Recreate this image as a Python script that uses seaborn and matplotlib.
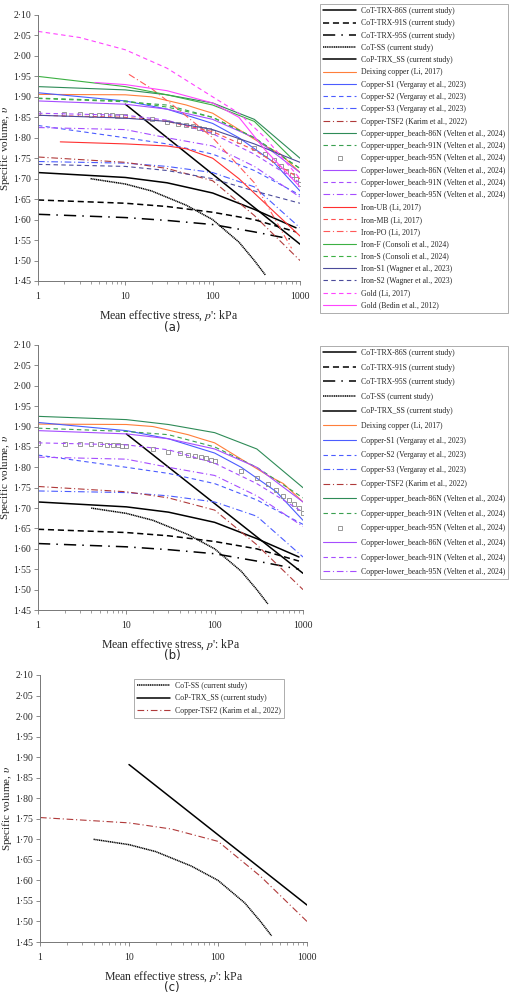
import numpy as np
import matplotlib
matplotlib.use("Agg")
import matplotlib.pyplot as plt
import seaborn as sns
from matplotlib.ticker import FuncFormatter, FixedLocator, LogLocator, NullFormatter

sns.set_theme(style="white")
plt.rcParams['font.family'] = ['Liberation Serif', 'DejaVu Serif']
plt.rcParams['mathtext.fontset'] = 'stix'

# ─── data ──────────────────────────────────────────────────────────────────
tx86_p = [1, 10, 30, 100, 300, 900]
tx86_v = [1.715, 1.703, 1.69, 1.665, 1.625, 1.58]
tx91_p = [1, 10, 30, 100, 300, 900]
tx91_v = [1.648, 1.64, 1.632, 1.618, 1.60, 1.57]
tx95_p = [1, 10, 30, 100, 300, 900]
tx95_v = [1.613, 1.605, 1.598, 1.588, 1.57, 1.55]
ss_p = [4, 10, 20, 50, 100, 200, 300, 400]
ss_v = [1.70, 1.687, 1.67, 1.635, 1.60, 1.545, 1.50, 1.465]
cop_p = [10, 1000]
cop_v = [1.882, 1.54]
deix_p = [1, 10, 20, 50, 70, 100, 200, 400, 600, 1000]
deix_v = [1.906, 1.905, 1.90, 1.88, 1.87, 1.86, 1.82, 1.78, 1.76, 1.715]
s1_p = [1, 10, 30, 100, 200, 500, 1000]
s1_v = [1.91, 1.89, 1.87, 1.835, 1.80, 1.74, 1.67]
s2_p = [1, 10, 30, 100, 300, 1000]
s2_v = [1.83, 1.80, 1.785, 1.76, 1.72, 1.66]
s3_p = [1, 10, 30, 100, 300, 1000]
s3_v = [1.742, 1.738, 1.73, 1.715, 1.68, 1.58]
tsf2_p = [1, 10, 30, 100, 300, 1000]
tsf2_v = [1.753, 1.74, 1.725, 1.695, 1.61, 1.50]
ub86_p = [1, 10, 30, 100, 300, 1000]
ub86_v = [1.925, 1.917, 1.905, 1.885, 1.845, 1.75]
ub91_p = [1, 10, 30, 100, 300, 1000]
ub91_v = [1.896, 1.888, 1.88, 1.85, 1.80, 1.725]
ub95_p = [1, 2, 3, 4, 5, 6, 7, 8, 9, 10, 20, 30, 40, 50, 60, 70, 80, 90, 100,
          200, 300, 400, 500, 600, 700, 800, 900, 1000]
ub95_v = [1.86, 1.858, 1.857, 1.856, 1.856, 1.855, 1.855, 1.854, 1.853, 1.852,
          1.845, 1.838, 1.834, 1.831, 1.828, 1.825, 1.822, 1.819, 1.815,
          1.792, 1.775, 1.76, 1.745, 1.73, 1.72, 1.71, 1.70, 1.688]
lb86_p = [1, 10, 30, 100, 300, 1000]
lb86_v = [1.89, 1.882, 1.87, 1.845, 1.80, 1.715]
lb91_p = [1, 10, 30, 100, 300, 1000]
lb91_v = [1.86, 1.855, 1.843, 1.81, 1.76, 1.69]
lb95_p = [1, 10, 30, 100, 300, 1000]
lb95_v = [1.825, 1.82, 1.80, 1.78, 1.73, 1.655]
iub_p = [1.8, 10, 30, 50, 100, 200, 500, 1000]
iub_v = [1.79, 1.785, 1.78, 1.773, 1.75, 1.70, 1.62, 1.56]
imb_p = [1, 10, 30, 100, 300, 1000]
imb_v = [1.855, 1.85, 1.84, 1.815, 1.77, 1.70]
ipo_p = [11, 20, 40, 100, 300, 800]
ipo_v = [1.955, 1.92, 1.87, 1.80, 1.69, 1.53]
ifz_p = [1, 10, 30, 100, 300, 800]
ifz_v = [1.95, 1.925, 1.905, 1.88, 1.84, 1.75]
isz_p = [1, 10, 30, 100, 300, 1000]
isz_v = [1.897, 1.89, 1.875, 1.85, 1.80, 1.725]
is1_p = [1, 10, 30, 100, 300, 1000]
is1_v = [1.855, 1.848, 1.84, 1.82, 1.785, 1.74]
is2_p = [1, 10, 30, 100, 300, 1000]
is2_v = [1.735, 1.73, 1.72, 1.70, 1.67, 1.64]
goldli_p = [1, 3, 10, 30, 100, 200, 400, 1000]
goldli_v = [2.06, 2.045, 2.015, 1.97, 1.90, 1.86, 1.80, 1.70]
goldbe_p = [4.5, 10, 30, 100, 200, 400, 1000]
goldbe_v = [1.935, 1.93, 1.915, 1.885, 1.85, 1.77, 1.68]

ET = "et al."
DD = (0, (6, 2.5, 1, 2.5))
# (label, p, v, colour, linestyle, marker)
common = [
    ("CoT-TRX-86S (current study)", tx86_p, tx86_v, "black", "-", None),
    ("CoT-TRX-91S (current study)", tx91_p, tx91_v, "black", (0, (4, 2.5)), None),
    ("CoT-TRX-95S (current study)", tx95_p, tx95_v, "black", (0, (8, 4, 1, 4)), None),
    ("CoT-SS (current study)", ss_p, ss_v, "black", (0, (0.8, 0.4)), None),
    ("CoP-TRX_SS (current study)", cop_p, cop_v, "black", "-", None),
    ("Deixing copper (Li, 2017)", deix_p, deix_v, "#ff7f3a", "-", None),
    ("Copper-S1 (Vergaray " + ET + ", 2023)", s1_p, s1_v, "#4b5cff", "-", None),
    ("Copper-S2 (Vergaray " + ET + ", 2023)", s2_p, s2_v, "#4b5cff", (0, (4, 3)), None),
    ("Copper-S3 (Vergaray " + ET + ", 2023)", s3_p, s3_v, "#4b5cff", DD, None),
    ("Copper-TSF2 (Karim " + ET + ", 2022)", tsf2_p, tsf2_v, "#b03a3a", DD, None),
    ("Copper-upper_beach-86N (Velten " + ET + ", 2024)", ub86_p, ub86_v, "#2e8b57", "-", None),
    ("Copper-upper_beach-91N (Velten " + ET + ", 2024)", ub91_p, ub91_v, "#3aa050", (0, (4, 3)), None),
    ("Copper-upper_beach-95N (Velten " + ET + ", 2024)", ub95_p, ub95_v, "#888888", "none", "s"),
    ("Copper-lower_beach-86N (Velten " + ET + ", 2024)", lb86_p, lb86_v, "#a64dff", "-", None),
    ("Copper-lower_beach-91N (Velten " + ET + ", 2024)", lb91_p, lb91_v, "#a64dff", (0, (4, 3)), None),
    ("Copper-lower_beach-95N (Velten " + ET + ", 2024)", lb95_p, lb95_v, "#a64dff", DD, None),
]
iron = [
    ("Iron-UB (Li, 2017)", iub_p, iub_v, "#ff3030", "-", None),
    ("Iron-MB (Li, 2017)", imb_p, imb_v, "#ff5050", (0, (4, 3)), None),
    ("Iron-PO (Li, 2017)", ipo_p, ipo_v, "#ff5a5a", DD, None),
    ("Iron-F (Consoli " + ET + ", 2024)", ifz_p, ifz_v, "#3cb043", "-", None),
    ("Iron-S (Consoli " + ET + ", 2024)", isz_p, isz_v, "#3cb043", (0, (4, 3)), None),
    ("Iron-S1 (Wagner " + ET + ", 2023)", is1_p, is1_v, "#4b4b9b", "-", None),
    ("Iron-S2 (Wagner " + ET + ", 2023)", is2_p, is2_v, "#4b4b9b", (0, (4, 3)), None),
    ("Gold (Li, 2017)", goldli_p, goldli_v, "#ff44ff", (0, (4, 3)), None),
    ("Gold (Bedin " + ET + ", 2012)", goldbe_p, goldbe_v, "#ff44ff", "-", None),
]
panel_c = [common[3], common[4], common[9]]

W, H = 520, 993
fig = plt.figure(figsize=(W / 100, H / 100), dpi=100, facecolor="white")


def px_axes(x0, x1, y0, y1):
    return fig.add_axes([x0 / W, 1 - y1 / H, (x1 - x0) / W, (y1 - y0) / H])


def draw(ax, series):
    for lab, p, v, c, ls, mk in series:
        if mk:
            sns.lineplot(x=p, y=v, ax=ax, color=c, linestyle="none", marker="s",
                         markersize=2.6, markerfacecolor="none", markeredgecolor=c,
                         markeredgewidth=0.6, label=lab, sort=False)
        else:
            lw = 1.1 if c == "black" else 0.8
            sns.lineplot(x=p, y=v, ax=ax, color=c, linestyle=ls, linewidth=lw,
                         label=lab, sort=False)
    ax.set_xscale("log")
    ax.set_xlim(1, 1000)
    ax.set_ylim(1.45, 2.10)
    ax.yaxis.set_major_locator(FixedLocator(np.arange(1.45, 2.101, 0.05)))
    ax.yaxis.set_major_formatter(FuncFormatter(lambda y, _: f"{y:.2f}".replace(".", "·")))
    ax.xaxis.set_major_locator(FixedLocator([1, 10, 100, 1000]))
    ax.xaxis.set_major_formatter(FuncFormatter(lambda x, _: f"{x:.0f}"))
    ax.xaxis.set_minor_locator(LogLocator(subs=np.arange(2, 10)))
    ax.xaxis.set_minor_formatter(NullFormatter())
    for s in ["top", "right"]:
        ax.spines[s].set_visible(False)
    for s in ["left", "bottom"]:
        ax.spines[s].set_color("#777777")
        ax.spines[s].set_linewidth(0.7)
    ax.tick_params(axis="both", which="major", length=3, width=0.6, labelsize=7,
                   color="#777777", bottom=True, left=True, pad=2)
    ax.tick_params(axis="x", which="major", pad=5)
    ax.tick_params(axis="x", which="minor", length=1.8, width=0.5, color="#777777",
                   bottom=True)
    ax.set_xlabel("Mean effective stress, $p$': kPa", fontsize=8.5, labelpad=5)
    ax.set_ylabel("Specific volume, $\\upsilon$", fontsize=8, labelpad=1)
    ax.grid(False)


def legend(ax, x0, y0, fs=5.6, sp=0.55):
    leg = ax.legend(loc="upper left", fontsize=fs, frameon=True, fancybox=False,
                    edgecolor="#888888", handlelength=4.3, handletextpad=0.6,
                    labelspacing=sp, borderpad=0.4,
                    bbox_to_anchor=(x0 / W, 1 - y0 / H),
                    bbox_transform=fig.transFigure)
    leg.get_frame().set_linewidth(0.6)
    return leg


ax_a = px_axes(38, 300, 15, 281)
draw(ax_a, common + iron)
legend(ax_a, 316, 0, sp=0.55)

ax_b = px_axes(38, 303, 345, 610)
draw(ax_b, common)
legend(ax_b, 316, 342, sp=0.85)

ax_c = px_axes(40, 307, 675, 942)
draw(ax_c, panel_c)
legend(ax_c, 130, 675, sp=0.55)

for lbl, yy in [("(a)", 327), ("(b)", 655), ("(c)", 987)]:
    fig.text(172 / W, 1 - yy / H, lbl, ha="center", va="center", fontsize=8.5,
             family=["DejaVu Sans"])

fig.savefig("out.png", dpi=100, facecolor="white")
